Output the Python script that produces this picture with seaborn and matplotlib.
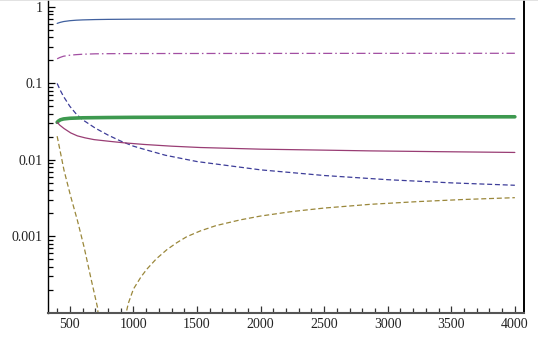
import numpy as np
import pandas as pd
import matplotlib
matplotlib.use("Agg")
import matplotlib.pyplot as plt
import seaborn as sns
from matplotlib.ticker import FixedLocator, NullFormatter, FixedFormatter
from matplotlib.lines import Line2D

# ---- data ----
x_blue_solid = [400, 420, 450, 500, 550, 600, 700, 800, 1000, 1500, 2000, 3000, 4000]
y_blue_solid = [0.61, 0.627, 0.645, 0.662, 0.672, 0.678, 0.685, 0.689, 0.693, 0.696, 0.698, 0.70, 0.70]

x_purple = [400, 420, 450, 500, 550, 600, 700, 800, 1000, 2000, 4000]
y_purple = [0.21, 0.218, 0.227, 0.234, 0.238, 0.241, 0.244, 0.245, 0.246, 0.247, 0.248]

x_blue_dash = [400, 425, 450, 500, 550, 600, 700, 800, 900, 1000, 1100, 1250, 1500, 2000, 2500,
               3000, 3500, 4000]
y_blue_dash = [0.100, 0.081, 0.0676, 0.0501, 0.0398, 0.0335, 0.0260, 0.0211, 0.0176, 0.0151,
               0.0135, 0.0115, 0.0095, 0.0074, 0.00624, 0.0055, 0.0050, 0.00465]

x_green = [400, 410, 425, 450, 500, 600, 800, 1000, 1500, 2000, 3000, 4000]
y_green = [0.031, 0.0322, 0.0334, 0.0343, 0.0350, 0.0355, 0.0358, 0.036, 0.0362, 0.0364,
           0.0365, 0.0366]

x_magenta = [400, 420, 454, 507, 559, 620, 690, 822, 927, 1085, 1300, 1526, 2000, 2500,
             2865, 3400, 4000]
y_magenta = [0.031, 0.0285, 0.0257, 0.0225, 0.0206, 0.0194, 0.0184, 0.0174, 0.0167, 0.0159,
             0.0151, 0.0145, 0.0138, 0.0134, 0.0131, 0.0128, 0.0125]

x_gold = [400, 454, 507, 559, 612, 664, 717, 740, 800, 880, 943, 960, 1000, 1060, 1106,
          1180, 1263, 1340, 1420, 1526, 1650, 1841, 2000, 2250, 2500, 2865, 3250, 3600, 4000]
y_gold = [0.0204, 0.0073, 0.0033, 0.00162, 0.00072, 0.00029, 0.000118, 5e-5, 1e-5, 3e-5,
          0.0001, 0.000133, 0.000204, 0.000295, 0.000372, 0.000507, 0.000668, 0.000822,
          0.000989, 0.001175, 0.00138, 0.00164, 0.00184, 0.00211, 0.00234, 0.00262,
          0.00285, 0.00303, 0.0032]

y_ticks = [0.001, 0.01, 0.1, 1]
y_tick_labels = ["0.001", "0.01", "0.1", "1"]
x_ticks = [500, 1000, 1500, 2000, 2500, 3000, 3500, 4000]

# ---- styling ----
sns.set_theme(style="white")
plt.rcParams["font.family"] = ["Liberation Serif", "DejaVu Serif"]
plt.rcParams["lines.scale_dashes"] = False

fig = plt.figure(figsize=(5.38, 3.40), dpi=100)
ax = fig.add_axes([48 / 538, (340 - 312.7) / 340, (524 - 48) / 538, 312.7 / 340])

series = [
    (x_blue_solid, y_blue_solid, "#40609e", 0.9, "-"),
    (x_purple, y_purple, "#a24ea2", 0.9, (0, (6.5, 2.2, 1.1, 2.2))),
    (x_blue_dash, y_blue_dash, "#3d3d99", 0.9, (0, (3.6, 2.0))),
    (x_green, y_green, "#3d994f", 2.6, "-"),
    (x_magenta, y_magenta, "#993d74", 0.9, "-"),
    (x_gold, y_gold, "#9a873a", 0.9, (0, (3.6, 2.0))),
]
for xs, ys, c, lw, ls in series:
    df = pd.DataFrame({"x": xs, "y": ys})
    sns.lineplot(data=df, x="x", y="y", ax=ax, color=c, linewidth=lw,
                 linestyle=ls, estimator=None, sort=True)

ax.set_yscale("log")
ax.set_xlim(328, 4072)
ax.set_ylim(1e-4, 1.235)
ax.set_xlabel("")
ax.set_ylabel("")

ax.yaxis.set_major_locator(FixedLocator(y_ticks))
ax.yaxis.set_major_formatter(FixedFormatter(y_tick_labels))
minors = [m * 10.0 ** e for e in range(-4, 1) for m in range(2, 10)]
ax.yaxis.set_minor_locator(FixedLocator(minors))
ax.yaxis.set_minor_formatter(NullFormatter())

ax.xaxis.set_major_locator(FixedLocator(x_ticks))
ax.set_xticklabels([str(v) for v in x_ticks])
ax.xaxis.set_minor_locator(FixedLocator(list(range(400, 4001, 100))))

ax.tick_params(axis="both", which="both", left=True, bottom=True, top=False, right=False)
ax.tick_params(axis="both", which="major", direction="in", length=5, width=0.9,
               color="black", labelsize=10, labelcolor="#222222", pad=4)
ax.tick_params(axis="both", which="minor", direction="in", length=3.5, width=0.9,
               color="black")
ax.tick_params(axis="x", which="both", color="#333333")

ax.spines["top"].set_visible(False)
ax.spines["left"].set_color("black")
ax.spines["left"].set_linewidth(1.0)
ax.spines["right"].set_color("black")
ax.spines["right"].set_linewidth(1.4)
ax.spines["bottom"].set_color("#555555")
ax.spines["bottom"].set_linewidth(1.5)
ax.set_facecolor("white")
ax.grid(False)

fig.add_artist(Line2D([0, 1], [0.999, 0.999], transform=fig.transFigure,
                      color="#dddddd", linewidth=1.2))

fig.savefig("out.png", dpi=100)
